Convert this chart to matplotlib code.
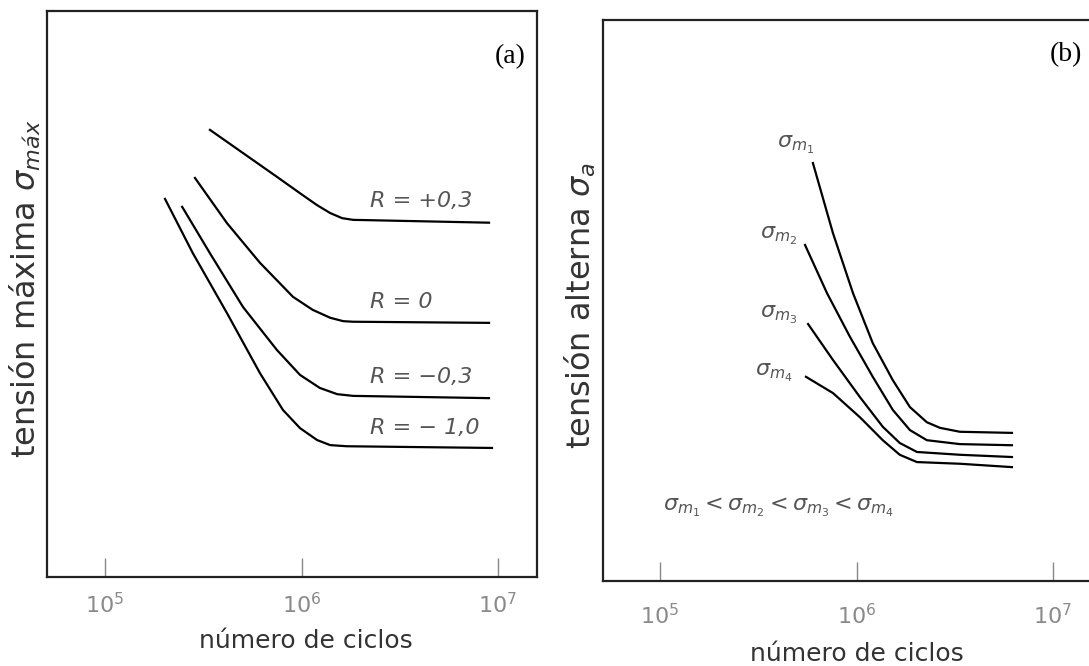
import matplotlib.pyplot as plt
from matplotlib.ticker import NullLocator

plt.rcParams['font.family'] = ['DejaVu Sans']
plt.rcParams['mathtext.fontset'] = 'dejavusans'

# (a) tension maxima vs numero de ciclos, one curve per R
ciclos_r_p03 = [3.42e5, 5.04e5, 7.50e5, 9.83e5, 1.20e6, 1.40e6, 1.61e6, 1.83e6, 9.0e6]
smax_r_p03 = [79.0, 74.9, 70.7, 67.8, 65.7, 64.3, 63.4, 63.1, 62.6]

ciclos_r_0 = [2.87e5, 4.18e5, 6.15e5, 9.05e5, 1.14e6, 1.40e6, 1.63e6, 1.83e6, 9.0e6]
smax_r_0 = [70.5, 62.5, 55.5, 49.5, 47.2, 45.8, 45.2, 45.1, 44.9]

ciclos_r_m03 = [2.47e5, 3.42e5, 5.04e5, 7.50e5, 9.83e5, 1.24e6, 1.52e6, 1.83e6, 9.0e6]
smax_r_m03 = [65.4, 57.2, 47.7, 40.1, 35.7, 33.4, 32.3, 32.0, 31.6]

ciclos_r_m10 = [2.02e5, 2.80e5, 4.18e5, 6.15e5, 8.05e5, 9.83e5, 1.20e6, 1.40e6, 1.70e6, 9.32e6]
smax_r_m10 = [66.8, 57.2, 46.6, 36.0, 29.5, 26.3, 24.2, 23.3, 23.1, 22.8]

etiquetas_r = ['R = +0,3', 'R = 0', 'R = −0,3', 'R = − 1,0']

# (b) tension alterna vs numero de ciclos, one curve per tension media
ciclos_m1 = [6.00e5, 7.59e5, 9.60e5, 1.21e6, 1.53e6, 1.87e6, 2.28e6, 2.66e6, 3.36e6, 6.18e6]
sa_m1 = [74.5, 62.0, 51.3, 42.4, 35.8, 31.0, 28.3, 27.3, 26.6, 26.4]

ciclos_m2 = [5.47e5, 7.08e5, 9.27e5, 1.21e6, 1.53e6, 1.87e6, 2.28e6, 3.36e6, 6.18e6]
sa_m2 = [59.9, 51.3, 43.5, 36.4, 30.5, 26.9, 25.1, 24.4, 24.2]

ciclos_m3 = [5.67e5, 7.59e5, 1.04e6, 1.36e6, 1.66e6, 2.03e6, 3.36e6, 6.18e6]
sa_m3 = [45.8, 39.4, 32.8, 27.5, 24.6, 23.0, 22.5, 22.1]

ciclos_m4 = [5.53e5, 7.59e5, 1.04e6, 1.36e6, 1.66e6, 2.03e6, 3.36e6, 6.18e6]
sa_m4 = [36.4, 33.5, 29.2, 25.1, 22.5, 21.2, 20.9, 20.3]

etiquetas_m = [r'$\sigma_{m_1}$', r'$\sigma_{m_2}$', r'$\sigma_{m_3}$', r'$\sigma_{m_4}$']

ticks_x = [1e5, 1e6, 1e7]

fig = plt.figure(figsize=(10.89, 6.66), dpi=100)
ax_a = fig.add_axes([47 / 1089, 89 / 666, 490 / 1089, 566 / 666])
ax_b = fig.add_axes([603 / 1089, 85 / 666, 486 / 1089, 561 / 666])


def estilo(ax, xmin, xmax, pad):
    ax.set_xscale('log')
    ax.set_xlim(xmin, xmax)
    ax.set_ylim(0, 100)
    ax.set_xticks(ticks_x)
    ax.xaxis.set_minor_locator(NullLocator())
    ax.set_yticks([])
    ax.tick_params(axis='x', direction='in', length=14, width=1, color='#888',
                   labelsize=16, labelcolor='#8a8a8a', pad=pad)
    for s in ax.spines.values():
        s.set_color('#222')
        s.set_linewidth(1.6)


# left panel
estilo(ax_a, 10 ** 4.7048, 10 ** 7.1985, 11)
curvas_a = [(ciclos_r_p03, smax_r_p03), (ciclos_r_0, smax_r_0),
            (ciclos_r_m03, smax_r_m03), (ciclos_r_m10, smax_r_m10)]
for x, y in curvas_a:
    ax_a.plot(x, y, color='black', lw=1.6, solid_joinstyle='round')

pos_r = [0.664, 0.486, 0.353, 0.263]
for txt, fy in zip(etiquetas_r, pos_r):
    ax_a.text(0.659, fy, txt, transform=ax_a.transAxes, fontsize=16,
              style='italic', color='#555', ha='left', va='center')

ax_a.text(0.945, 0.92, '(a)', transform=ax_a.transAxes, fontsize=20,
          family='Liberation Serif', ha='center', va='center')
ax_a.set_xlabel('número de ciclos', fontsize=18, color='#333', va='center')
ax_a.xaxis.set_label_coords(0.529, -0.113)
ax_a.set_ylabel(r'tensión máxima $\sigma_{máx}$', fontsize=23, color='#333',
                va='center')
ax_a.yaxis.set_label_coords(-0.045, 0.51)

# right panel
estilo(ax_b, 10 ** 4.7099, 10 ** 7.1832, 16)
ax_b.spines['right'].set_visible(False)
curvas_b = [(ciclos_m1, sa_m1), (ciclos_m2, sa_m2),
            (ciclos_m3, sa_m3), (ciclos_m4, sa_m4)]
for x, y in curvas_b:
    ax_b.plot(x, y, color='black', lw=1.6, solid_joinstyle='round')

pos_m = [(0.358, 0.777), (0.323, 0.615), (0.323, 0.474), (0.313, 0.371)]
for txt, (fx, fy) in zip(etiquetas_m, pos_m):
    ax_b.text(fx, fy, txt, transform=ax_b.transAxes, fontsize=16,
              color='#555', ha='left', va='center')

ax_b.text(0.123, 0.132,
          r'$\sigma_{m_1} < \sigma_{m_2} < \sigma_{m_3} < \sigma_{m_4}$',
          transform=ax_b.transAxes, fontsize=16, color='#555',
          ha='left', va='center')

ax_b.text(0.953, 0.938, '(b)', transform=ax_b.transAxes, fontsize=20,
          family='Liberation Serif', ha='center', va='center')
ax_b.set_xlabel('número de ciclos', fontsize=18, color='#333', va='center')
ax_b.xaxis.set_label_coords(0.523, -0.130)
ax_b.set_ylabel(r'tensión alterna $\sigma_a$', fontsize=23, color='#333',
                va='center')
ax_b.yaxis.set_label_coords(-0.047, 0.49)

fig.savefig('out.png', dpi=100)
